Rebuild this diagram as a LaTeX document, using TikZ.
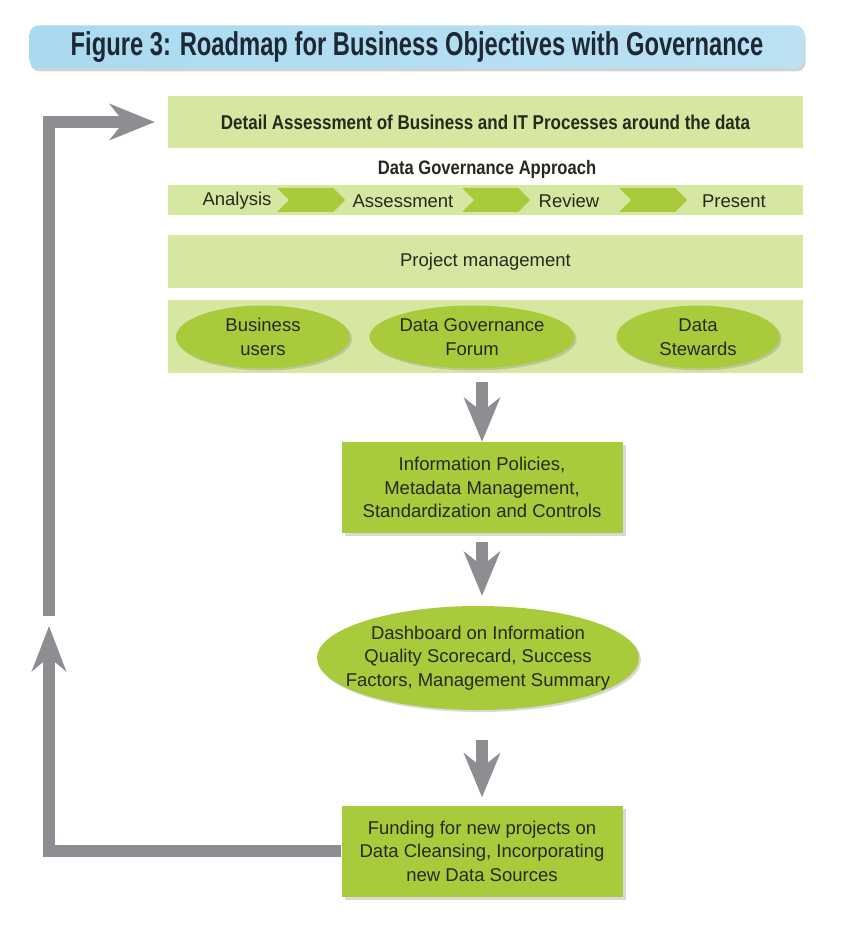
\documentclass[tikz,border=0pt]{standalone}
\usepackage{fontspec}
\setmainfont{Liberation Sans}
\newfontfamily\condfont{Liberation Sans}[FakeStretch=0.72]
\newfontfamily\headfont{Liberation Sans}[FakeStretch=0.85]
\usepackage{xcolor}
\usepackage{tikz}
\usetikzlibrary{shapes,arrows,arrows.meta,positioning,fit,calc,shadows}

\definecolor{bandgreen}{HTML}{D6E7A2}
\definecolor{boxgreen}{HTML}{A8CB3C}
\definecolor{arrowgray}{HTML}{8C8E92}
\definecolor{textdark}{HTML}{262A1C}
\definecolor{titleblue}{HTML}{AADAF0}
\definecolor{titletext}{HTML}{1E2835}

\newcommand{\bodysize}{\fontsize{18.5}{23.5}\selectfont}

\tikzset{
  titlebar/.style={rounded corners=9pt, minimum width=775pt, minimum height=43pt,
    left color=titleblue, middle color=titleblue!20, right color=titleblue!80,
    drop shadow={shadow xshift=1pt, shadow yshift=-3pt, opacity=0.35},
    text=titletext, font=\condfont\bfseries\fontsize{33}{33}\selectfont},
  band/.style={fill=bandgreen, minimum width=635pt, inner sep=0pt, text=textdark,
    font=\bodysize},
  chevron/.style={signal, signal from=west, signal to=east, fill=boxgreen,
    minimum width=68pt, minimum height=24pt, inner sep=0pt},
  steptext/.style={text=textdark, font=\bodysize},
  bubble/.style={ellipse, fill=boxgreen, inner sep=0pt, align=center, text=textdark,
    font=\bodysize, drop shadow={shadow xshift=2pt, shadow yshift=-2pt, opacity=0.3}},
  greenbox/.style={fill=boxgreen, minimum width=281pt, minimum height=91pt,
    align=center, text=textdark, font=\bodysize,
    drop shadow={shadow xshift=3pt, shadow yshift=-3pt, opacity=0.3}},
  flowarrow/.style={draw=arrowgray, line width=12pt,
    -{Stealth[length=44pt, width=36pt, inset=14pt]}},
  loopline/.style={draw=arrowgray, line width=12pt, line join=miter}
}

\begin{document}
\begin{tikzpicture}[x=1pt, y=-1pt]
    \useasboundingbox (0,0) rectangle (840,941);

    % Title banner
    \node[titlebar] (title) at (417,47) {Figure 3: Roadmap for Business Objectives with Governance};

    % Assessment bands
    \node[band, minimum height=52pt, font=\headfont\bfseries\fontsize{20}{20}\selectfont]
        (detail) at (485.5,122) {Detail Assessment of Business and IT Processes around the data};
    \node[text=textdark, font=\headfont\bfseries\fontsize{19.5}{20}\selectfont]
        (approach) at (487,169) {Data Governance Approach};
    \node[band, minimum height=30pt] (process) at (485.5,200) {};
    \node[chevron] (chev1) at (311,200) {};
    \node[chevron] (chev2) at (496,200) {};
    \node[chevron] (chev3) at (653,200) {};
    \node[steptext] (analysis) at (237,201) {Analysis};
    \node[steptext] (assess) at (403,201) {Assessment};
    \node[steptext] (review) at (569,201) {Review};
    \node[steptext] (present) at (734,201) {Present};
    \node[band, minimum height=53pt] (project) at (485.5,261.5) {Project management};

    % Stakeholders
    \node[band, minimum height=73pt] (stake) at (485.5,336.5) {};
    \node[bubble, minimum width=174pt, minimum height=63pt] (users) at (263,337) {Business\\users};
    \node[bubble, minimum width=168pt, minimum height=63pt] (forum) at (472,337) {Data Governance\\Forum};
    \node[bubble, minimum width=163pt, minimum height=63pt] (stewards) at (698,337) {Data\\Stewards};

    % Main flow
    \node[greenbox] (policies) at (482,487.5) {Information Policies,\\Metadata Management,\\Standardization and Controls};
    \node[bubble, inner xsep=-20pt, minimum width=322pt, minimum height=104pt] (dashboard) at (478,658)
        {Dashboard on Information\\Quality Scorecard, Success\\Factors, Management Summary};
    \node[greenbox] (funding) at (482,851) {Funding for new projects on\\Data Cleansing, Incorporating\\new Data Sources};

    \draw[flowarrow, shorten <=9pt] (stake.south -| policies.north) -- (policies.north);
    \draw[flowarrow, shorten <=9pt, shorten >=10pt] (policies.south) -- (dashboard.north -| policies.south);
    \draw[flowarrow, shorten <=30pt, shorten >=8pt] (dashboard.south -| funding.north) -- (funding.north);

    % Feedback loop
    \coordinate (liftend) at (49,626);
    \coordinate (liftstart) at (49,616);
    \draw[loopline, -{Stealth[length=45pt, width=34pt, inset=14pt]}] (funding.west) -| (liftend);
    \draw[loopline, shorten >=13pt, -{Stealth[length=45pt, width=36pt, inset=14pt]}] (liftstart) |- (detail.west);
\end{tikzpicture}
\end{document}
